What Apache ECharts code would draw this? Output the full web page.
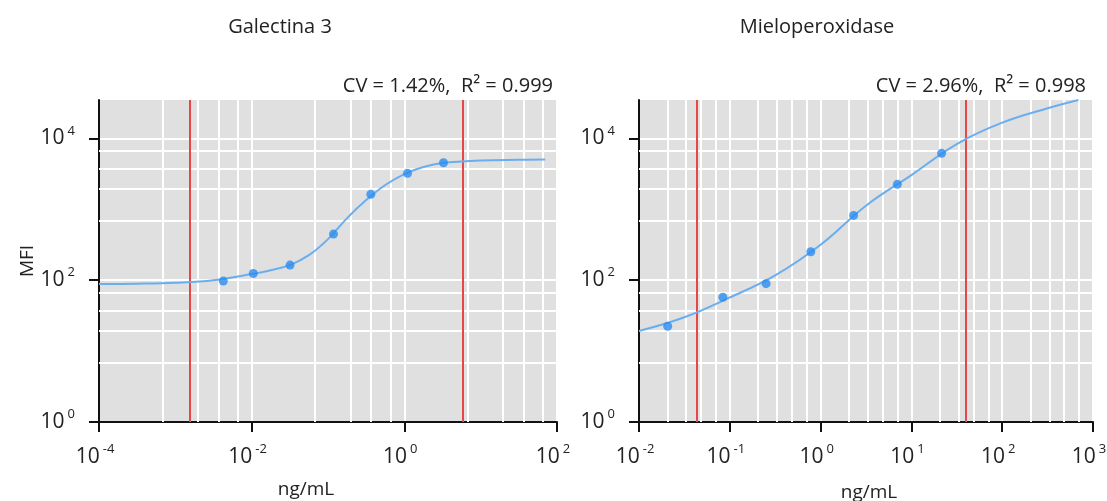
<!DOCTYPE html>
<html><head><meta charset="utf-8">
<script src="https://cdn.jsdelivr.net/npm/echarts@6/dist/echarts.min.js"></script>
<style>html,body{margin:0;padding:0;background:#fff}#c{width:1107px;height:501px}</style>
</head><body><div id="c"></div>
<script>
// ---- data ----
const titles = ['Galectina 3', 'Mieloperoxidase'];
const fitTexts = ['CV = 1.42%,  R\u00b2 = 0.999', 'CV = 2.96%,  R\u00b2 = 0.998'];
const xName = 'ng/mL';
const yName = 'MFI';

// Galectina 3 standards (ng/mL, MFI)
const galX = [0.00425, 0.0105, 0.0318, 0.118, 0.364, 1.10, 3.26];
const galY = [97, 124, 163, 446, 1622, 3206, 4527];
// Galectina 3 fitted curve
const galCurveX = [0.0001, 0.000316, 0.001, 0.00316, 0.01, 0.0178, 0.0316, 0.0562, 0.1, 0.178, 0.316, 0.562, 1, 1.78, 3.16, 10, 31.6, 70];
const galCurveY = [88, 89, 92, 100, 122, 138, 163, 225, 379, 750, 1346, 2193, 3133, 3937, 4484, 4864, 4977, 5015];
// Galectina 3 limits (vertical red lines)
const galLimits = [0.00156, 5.84];

// Mieloperoxidase standards
const mieX = [0.0207, 0.0839, 0.251, 0.780, 2.31, 7.0, 21.5];
const mieY = [22.4, 57.5, 89.3, 251, 819, 2243, 6140];
const mieCurveX = [0.01, 0.0316, 0.1, 0.316, 1, 3.16, 10, 31.6, 100, 316, 690];
const mieCurveY = [19.2, 30, 57, 117, 316, 1122, 3033, 8300, 16600, 26500, 34700];
const mieLimits = [0.0435, 39.6];

// axes
const galXRange = [1e-4, 1e2];
const mieXRange = [1e-2, 1e3];
const yRange = [1, 34674];
const galXTicks = [1e-4, 1e-2, 1, 1e2];
const mieXTicks = [1e-2, 1e-1, 1, 1e1, 1e2, 1e3];
const yTicks = [1, 1e2, 1e4];
// minor grid multipliers within one major step (as drawn in the source chart)
const minorMult2 = [6.8, 19.6, 36.8, 65.7];   // 2-decade steps
const minorMult1 = [2.05, 3.3, 4.8, 7.05];    // 1-decade steps

// ---- chart ----
const FONT = 'Open Sans';
const TXT = '#222';
const pair = (xs, ys) => xs.map((x, i) => [x, ys[i]]);
const supFmt = v => '{b|10}{s|' + Math.round(Math.log10(v)) + '}';
const rich = {
  b: {fontSize: 21, lineHeight: 28, color: TXT, fontFamily: FONT},
  s: {fontSize: 13, lineHeight: 14, color: TXT, fontFamily: FONT, verticalAlign: 'top', padding: [0, 0, 0, 3]}
};
const axisLine = {show: true, onZero: false, lineStyle: {color: '#111', width: 2}};
const axisTick = {show: true, inside: false, length: 10, lineStyle: {color: '#111', width: 2}};
const splitLine = {show: true, lineStyle: {color: '#fff', width: 2}};
const minorGrid = (ticks, mult, max) =>
  ticks.flatMap(t => mult.map(m => t * m)).filter(v => v < max);

function xAxis(idx, range, ticks, interval, nameGap, namePad) {
  return {
    type: 'log', logBase: 10, gridIndex: idx, min: range[0], max: range[1], interval: interval,
    axisLine, axisTick: Object.assign({customValues: ticks}, axisTick),
    axisLabel: {customValues: ticks, formatter: supFmt, rich, margin: 21, padding: [0, 8, 0, 0]},
    splitLine,
    name: xName, nameLocation: 'middle', nameGap: nameGap,
    nameTextStyle: {fontSize: 19, color: TXT, fontFamily: FONT, padding: namePad}
  };
}
function yAxis(idx, withName) {
  return {
    type: 'log', logBase: 10, gridIndex: idx, min: yRange[0], max: yRange[1], interval: 2,
    axisLine, axisTick: Object.assign({customValues: yTicks}, axisTick),
    axisLabel: {customValues: yTicks, formatter: supFmt, rich, margin: 24},
    splitLine,
    name: withName ? yName : '', nameLocation: 'middle', nameGap: 62, nameRotate: 90,
    nameTextStyle: {fontSize: 19, color: TXT, fontFamily: FONT, padding: [0, 0, 0, 0]}
  };
}
function gridSeries(idx, xs, ys) {
  return {
    type: 'line', xAxisIndex: idx, yAxisIndex: idx, data: [], silent: true,
    markLine: {
      silent: true, symbol: 'none', label: {show: false}, precision: 10, z: 1,
      animation: false, emphasis: {disabled: true},
      lineStyle: {color: '#ffffff', width: 2, type: 'solid'},
      data: xs.map(v => ({xAxis: v})).concat(ys.map(v => ({yAxis: v})))
    }
  };
}
function curve(idx, xs, ys, limits) {
  return {
    type: 'line', xAxisIndex: idx, yAxisIndex: idx, data: pair(xs, ys),
    smooth: 0.4, showSymbol: false, lineStyle: {color: '#6aaef0', width: 2}, z: 3,
    markLine: {
      silent: true, symbol: 'none', label: {show: false}, precision: 10, z: 2,
      lineStyle: {color: '#e8474a', width: 2, type: 'solid'},
      emphasis: {disabled: true},
      data: limits.map(v => ({xAxis: v}))
    }
  };
}
function points(idx, xs, ys) {
  return {
    type: 'scatter', xAxisIndex: idx, yAxisIndex: idx, data: pair(xs, ys),
    symbolSize: 9, itemStyle: {color: '#2a8cf0'}, z: 4
  };
}

const yMinor = minorGrid(yTicks, minorMult2, yRange[1]);
const galXMinor = minorGrid(galXTicks, minorMult2, galXRange[1]);
const mieXMinor = minorGrid(mieXTicks, minorMult1, mieXRange[1]);

const titleStyle = {fontSize: 20, fontWeight: 'normal', color: TXT, fontFamily: FONT};
const chart = echarts.init(document.getElementById('c'), null, {renderer: 'canvas'});
chart.setOption({
  animation: false,
  textStyle: {fontFamily: FONT},
  title: [
    {text: titles[0], left: 275, top: 12, textAlign: 'center', textStyle: titleStyle},
    {text: titles[1], left: 812, top: 12, textAlign: 'center', textStyle: titleStyle},
    {text: fitTexts[0], right: 549, top: 71, textStyle: titleStyle},
    {text: fitTexts[1], right: 16, top: 71, textStyle: titleStyle}
  ],
  grid: [
    {left: 99, top: 100, width: 458, height: 322, show: true, backgroundColor: '#e0e0e0', borderWidth: 0,
     containLabel: false, outerBoundsMode: 'none'},
    {left: 639, top: 100, width: 454, height: 322, show: true, backgroundColor: '#e0e0e0', borderWidth: 0,
     containLabel: false, outerBoundsMode: 'none'}
  ],
  xAxis: [
    xAxis(0, galXRange, galXTicks, 2, 58, [0, 44, 0, 0]),
    xAxis(1, mieXRange, mieXTicks, 1, 61, [0, 0, 0, 6])
  ],
  yAxis: [yAxis(0, true), yAxis(1, false)],
  series: [
    gridSeries(0, galXMinor, yMinor),
    curve(0, galCurveX, galCurveY, galLimits),
    points(0, galX, galY),
    gridSeries(1, mieXMinor, yMinor),
    curve(1, mieCurveX, mieCurveY, mieLimits),
    points(1, mieX, mieY)
  ]
});
</script></body></html>
